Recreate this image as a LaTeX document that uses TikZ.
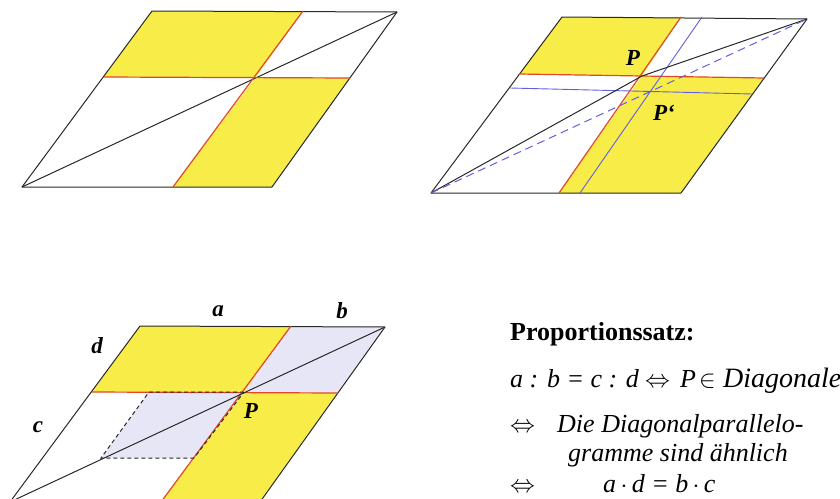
\documentclass[tikz,border=0pt]{standalone}
\usepackage{fontspec}
\setmainfont{Liberation Serif}
\definecolor{yel}{RGB}{247,236,72}
\definecolor{redc}{RGB}{226,72,40}
\definecolor{lav}{RGB}{230,230,247}
\definecolor{bluec}{RGB}{95,95,225}
\definecolor{edgec}{RGB}{40,40,40}
\begin{document}
\begin{tikzpicture}[x=1pt,y=-1pt,
  edge/.style={draw=edgec,line width=1pt,line join=round},
  redln/.style={draw=redc,line width=1.2pt},
  blueln/.style={draw=bluec,line width=0.9pt},
  bluedash/.style={draw=bluec,line width=1pt,dash pattern=on 8pt off 5pt},
  blackdash/.style={draw=edgec,line width=1pt,dash pattern=on 4pt off 3pt},
  yfill/.style={fill=yel},
  lfill/.style={fill=lav},
  lbl/.style={font=\fontsize{23}{23}\selectfont\bfseries\itshape,inner sep=0pt},
  txt/.style={font=\fontsize{26}{30}\selectfont,inner sep=0pt,anchor=base west}]
\useasboundingbox (0,0) rectangle (840,498);

% ---------- Figure 1 ----------
\coordinate (A1) at (22,187);
\coordinate (B1) at (272,187);
\coordinate (C1) at (397,12);
\coordinate (D1) at (152,11);
\coordinate (P1) at (256,77);
\coordinate (L1) at (104,77);
\coordinate (R1) at (350,78);
\coordinate (T1) at (303,11);
\coordinate (U1) at (173,187);
\fill[yfill] (D1) -- (T1) -- (P1) -- (L1) -- cycle;
\fill[yfill] (P1) -- (R1) -- (B1) -- (U1) -- cycle;
\draw[edge] (A1) -- (B1) -- (C1) -- (D1) -- cycle;
\draw[edge] (A1) -- (C1);
\draw[redln] (L1) -- (R1);
\draw[redln] (T1) -- (U1);

% ---------- Figure 2 ----------
\coordinate (A2) at (431,193);
\coordinate (B2) at (681,193);
\coordinate (C2) at (807,19);
\coordinate (D2) at (562,17);
\coordinate (P2) at (642,76);
\coordinate (L2) at (519,74);
\coordinate (R2) at (764,78);
\coordinate (T2) at (681,17);
\coordinate (U2) at (559,193);
\coordinate (HL2) at (510,88);
\coordinate (HR2) at (752,94);
\coordinate (VT2) at (702,17);
\coordinate (VB2) at (580,193);
\fill[yfill] (D2) -- (T2) -- (P2) -- (L2) -- cycle;
\fill[yfill] (P2) -- (R2) -- (B2) -- (U2) -- cycle;
\draw[edge] (A2) -- (B2) -- (C2) -- (D2) -- cycle;
\draw[redln] (L2) -- (P2) -- (R2);
\draw[redln] (T2) -- (U2);
\draw[blueln] (HL2) -- (HR2);
\draw[blueln] (VT2) -- (VB2);
\draw[edge] (A2) -- (P2) -- (C2);
\draw[bluedash] (A2) -- (C2);
\node[lbl] (lP2) at (633,58) {P};
\node[lbl] (lPp2) at (664,113) {P\textquoteleft};

% ---------- Figure 3 ----------
\coordinate (A3) at (10,502);
\coordinate (B3) at (260,502);
\coordinate (C3) at (385,327);
\coordinate (D3) at (140,326);
\coordinate (P3) at (244,392);
\coordinate (L3) at (92,392);
\coordinate (R3) at (338,393);
\coordinate (T3) at (291,326);
\coordinate (U3) at (161,502);
\coordinate (Q1) at (149,392);
\coordinate (Q2) at (101,458);
\coordinate (Q3) at (194,458);
\fill[yfill] (D3) -- (T3) -- (P3) -- (L3) -- cycle;
\fill[yfill] (P3) -- (R3) -- (B3) -- (U3) -- cycle;
\fill[lfill] (T3) -- (C3) -- (R3) -- (P3) -- cycle;
\fill[lfill] (P3) -- (Q1) -- (Q2) -- (Q3) -- cycle;
\draw[edge] (A3) -- (B3) -- (C3) -- (D3) -- cycle;
\draw[redln] (L3) -- (R3);
\draw[redln] (T3) -- (U3);
\draw[edge] (A3) -- (C3);
\draw[blackdash] (P3) -- (Q1) -- (Q2) -- (Q3) -- cycle;
\node[lbl] (la) at (218,311) {a};
\node[lbl] (lb) at (342,311) {b};
\node[lbl] (ld) at (97,346) {d};
\node[lbl] (lc) at (38,427) {c};
\node[lbl] (lP3) at (251,411) {P};

% ---------- Text ----------
\node[txt,font=\fontsize{26}{30}\selectfont\bfseries] (t1) at (510,340) {Proportionssatz:};
\node[txt,font=\fontsize{26}{30}\selectfont\itshape] (t2a) at (510,387) {a : b = c : d};
\node[txt] (t2b) at (645,387) {$\Leftrightarrow$};
\node[txt,font=\fontsize{26}{30}\selectfont\itshape] (t2c) at (680,387) {P};
\node[txt] (t2d) at (699,387) {$\in$};
\node[txt,font=\fontsize{28}{30}\selectfont\itshape] (t2e) at (723,387) {Diagonale};
\node[txt] (t3a) at (510,432) {$\Leftrightarrow$};
\node[txt,font=\fontsize{26}{30}\selectfont\itshape] (t3b) at (557,432) {Die Diagonalparallelo-};
\node[txt,font=\fontsize{26}{30}\selectfont\itshape] (t4) at (568,461) {gramme sind ähnlich};
\node[txt] (t5a) at (510,492) {$\Leftrightarrow$};
\node[txt,font=\fontsize{26}{30}\selectfont\itshape] (t5b) at (603,492) {a\,$\cdot$\,d = b\,$\cdot$\,c};
\end{tikzpicture}
\end{document}
